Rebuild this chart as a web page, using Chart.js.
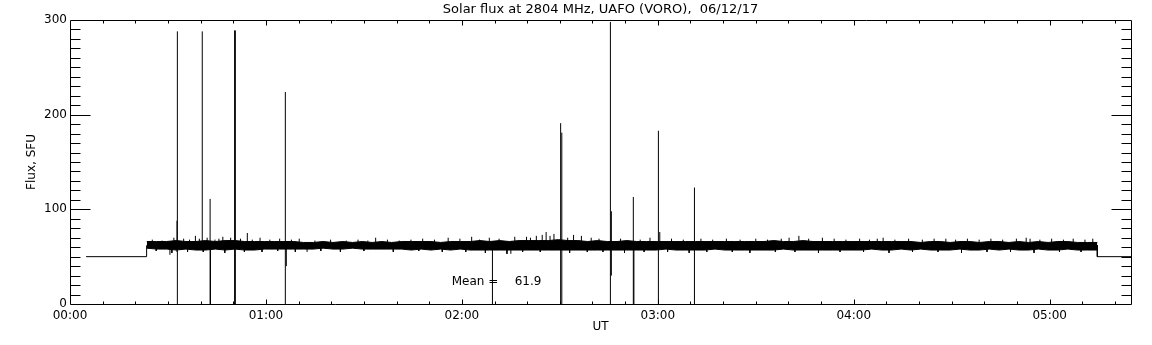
<!DOCTYPE html>
<html>
<head>
<meta charset="utf-8">
<script src="https://cdn.jsdelivr.net/npm/chart.js@4.4.1/dist/chart.umd.min.js"></script>
<style>
  html, body { margin: 0; padding: 0; background: #fff; }
  #wrap { width: 1152px; height: 345px; }
</style>
</head>
<body>
<div id="wrap"><canvas id="fluxChart" width="1152" height="345"></canvas></div>
<script>
// ==================== DATA ====================
// time in hours UT, flux in SFU

const titleText = 'Solar flux at 2804 MHz, UAFO (VORO),  06/12/17';
const xTitle = 'UT';
const yTitle = 'Flux, SFU';
const xMax = 5.415;
const xTickValues = [0, 1, 2, 3, 4, 5];
const xTickLabels = ['00:00', '01:00', '02:00', '03:00', '04:00', '05:00'];
const yTickValues = [0, 100, 200, 300];
const yTickLabels = ['0', '100', '200', '300'];

// calibration level before / after the observation
const calBeforeT = [0.082, 0.391, 0.391];
const calBeforeY = [50, 50, 62];
const calAfterT = [5.243, 5.243, 5.415];
const calAfterY = [62, 50, 50];

// core of the noise band, one reading every 3 minutes from 00:23.5
const bandStart = 0.392;
const bandStep = 0.05;
const bandUpper = [
    66, 66, 66, 67, 66, 66, 67, 66, 67, 67, 66, 66,
    66, 66, 66, 66, 65, 65, 66, 65, 66, 65, 66, 65,
    66, 65, 66, 66, 66, 66, 65, 66, 66, 66, 67, 66,
    67, 66, 67, 67, 67, 67, 68, 67, 67, 66, 67, 66,
    66, 67, 66, 66, 66, 66, 66, 66, 66, 66, 66, 66,
    66, 66, 66, 66, 67, 66, 66, 67, 66, 66, 66, 66,
    66, 66, 66, 66, 66, 66, 66, 65, 66, 66, 65, 66,
    66, 65, 66, 66, 65, 66, 65, 66, 65, 66, 66, 65,
    65
];
const bandLower = [
    59, 58, 58, 57, 58, 57, 57, 58, 57, 58, 57, 57,
    58, 58, 58, 58, 58, 58, 59, 58, 58, 59, 58, 58,
    58, 58, 58, 57, 58, 57, 58, 57, 58, 57, 57, 57,
    57, 57, 57, 57, 57, 57, 57, 57, 57, 57, 57, 57,
    57, 57, 57, 57, 57, 58, 57, 57, 57, 57, 58, 57,
    57, 57, 57, 57, 57, 58, 57, 57, 57, 57, 57, 57,
    57, 57, 58, 57, 57, 58, 57, 58, 57, 57, 57, 58,
    57, 57, 58, 57, 58, 57, 57, 58, 57, 57, 58, 57,
    57
];
const bandEndT = 5.243;
const bandEndUpper = 65;
const bandEndLower = 57;
const bandMid = 62;

// hair-like noise peaks above the band core
const hairUpT = [
    0.42, 0.47, 0.53, 0.58, 0.61, 0.66, 0.70, 0.74, 0.76, 0.82, 0.87, 0.93, 0.97,
    1.02, 1.07, 1.13, 1.17, 1.25, 1.33, 1.41, 1.47, 1.52, 1.62, 1.68, 1.74, 1.80,
    1.86, 1.93, 1.99, 2.05, 2.09, 2.14, 2.19, 2.27, 2.35, 2.41, 2.45, 2.54, 2.57,
    2.66, 2.70, 2.81, 2.91, 2.96, 3.07, 3.13, 3.22, 3.28, 3.35, 3.42, 3.50, 3.56,
    3.63, 3.67, 3.77, 3.84, 3.90, 3.96, 4.03, 4.08, 4.15, 4.21, 4.28, 4.35, 4.41,
    4.52, 4.58, 4.64, 4.70, 4.76, 4.83, 4.88, 4.95, 5.01, 5.07, 5.12, 5.18, 5.22
];
const hairUpY = [
    68, 67, 70, 69, 68, 69, 70, 68, 69, 70, 69, 68, 70,
    68, 69, 68, 69, 67, 68, 67, 68, 67, 68, 67, 68, 69,
    68, 70, 69, 71, 68, 70, 69, 71, 70, 73, 72, 70, 73,
    70, 69, 69, 68, 70, 69, 68, 69, 68, 69, 68, 69, 68,
    69, 70, 69, 70, 69, 68, 69, 68, 70, 68, 69, 68, 69,
    68, 69, 68, 69, 68, 69, 70, 68, 69, 68, 69, 68, 69
];
// and below it
const hairDownT = [
    0.44, 0.52, 0.60, 0.68, 0.79, 0.89, 0.98, 1.06, 1.15, 1.28, 1.38, 1.50, 1.65,
    1.78, 1.90, 2.02, 2.12, 2.23, 2.31, 2.40, 2.55, 2.64, 2.72, 2.83, 2.93, 3.05,
    3.16, 3.25, 3.38, 3.47, 3.60, 3.70, 3.82, 3.93, 4.05, 4.18, 4.30, 4.43, 4.55,
    4.68, 4.80, 4.92, 5.05, 5.16
];
const hairDownY = [
    56, 54, 55, 55, 54, 55, 55, 56, 55, 56, 55, 56, 55,
    56, 55, 55, 54, 53, 55, 55, 54, 55, 55, 54, 55, 55,
    54, 55, 55, 54, 55, 55, 54, 55, 55, 54, 55, 55, 54,
    55, 55, 54, 55, 55
];

// larger noise excursions
const noiseT    = [0.510, 0.546, 0.640, 0.780, 0.905, 1.210, 1.560, 2.250, 2.330, 2.380, 2.430, 2.470, 2.610, 3.010, 3.720, 4.120, 4.470, 4.900];
const noiseLow  = [52, 55, 60, 60, 60, 55, 58, 53, 60, 60, 60, 60, 60, 60, 60, 60, 60, 60];
const noiseHigh = [62, 88, 72, 71, 75, 63, 70, 62, 71, 72, 76, 74, 72, 76, 72, 69, 69, 69];

// interference spikes / dropouts
const spikeT    = [0.548, 0.675, 0.715, 0.717, 0.840, 0.844, 1.099, 1.104, 2.156, 2.504, 2.510, 2.758, 2.763, 2.875, 2.878, 3.003, 3.187];
const spikeLow  = [0, 60, 0, 0, 0, 0, 0, 40, 0, 0, 0, 0, 30, 0, 0, 0, 0];
const spikeHigh = [288, 288, 111, 60, 289, 289, 224, 60, 60, 191, 181, 298, 98, 113, 60, 183, 123];

const meanLabel = 'Mean =';
const meanValue = '61.9';
const meanAt = { t: 1.948, flux: 23.5 };

// ==================== CHART ====================

const FONT = 'DejaVu Sans';
Chart.defaults.font.family = FONT;
Chart.defaults.font.size = 12;
Chart.defaults.color = '#000';

function toPts(ts, ys) {
    return ts.map((t, i) => ({ x: t, y: ys[i] }));
}

function sticks(ts, lo, hi) {
    const pts = [];
    ts.forEach((t, i) => {
        const a = Array.isArray(lo) ? lo[i] : lo;
        pts.push({ x: t, y: a }, { x: t, y: hi[i] }, { x: t, y: null });
    });
    return pts;
}

const bandT = bandUpper.map((_, i) => bandStart + i * bandStep);
const upperPts = toPts(bandT, bandUpper).concat([{ x: bandEndT, y: bandEndUpper }]);
const lowerPts = toPts(bandT, bandLower).concat([{ x: bandEndT, y: bandEndLower }]);

const lineStyle = {
    borderColor: '#000',
    backgroundColor: '#000',
    borderWidth: 1,
    pointRadius: 0,
    tension: 0,
    spanGaps: false,
    fill: false
};

// IDL style box with inward major/minor ticks on all four sides
const idlAxes = {
    id: 'idlAxes',
    afterDatasetsDraw(chart) {
        const { ctx, chartArea: a, scales: { x, y } } = chart;
        ctx.save();
        ctx.strokeStyle = '#000';
        ctx.lineWidth = 1;
        const L = Math.round(a.left) + 0.5, R = Math.round(a.right) + 0.5;
        const T = Math.round(a.top) + 0.5, B = Math.round(a.bottom) + 0.5;
        ctx.beginPath();
        ctx.rect(L, T, R - L, B - T);
        // x ticks every 10 minutes, hours longer
        for (let m = 1; m / 6 < xMax; m++) {
            const px = Math.round(x.getPixelForValue(m / 6)) + 0.5;
            const len = m % 6 === 0 ? 5 : 3;
            ctx.moveTo(px, B); ctx.lineTo(px, B - len);
            ctx.moveTo(px, T); ctx.lineTo(px, T + len);
        }
        // y ticks every 10 SFU, hundreds longer
        for (let v = 10; v < 300; v += 10) {
            const py = Math.round(y.getPixelForValue(v)) + 0.5;
            const len = v % 100 === 0 ? 20 : 10;
            ctx.moveTo(L, py); ctx.lineTo(L + len, py);
            ctx.moveTo(R, py); ctx.lineTo(R - len, py);
        }
        ctx.stroke();

        ctx.fillStyle = '#000';
        ctx.font = '12px "' + FONT + '"';
        ctx.textBaseline = 'middle';
        ctx.textAlign = 'left';
        const mx = x.getPixelForValue(meanAt.t);
        const my = y.getPixelForValue(meanAt.flux);
        ctx.fillText(meanLabel, mx, my);
        ctx.fillText(meanValue, mx + 63, my);
        ctx.restore();
    }
};

new Chart(document.getElementById('fluxChart'), {
    type: 'line',
    data: {
        datasets: [
            Object.assign({}, lineStyle, { label: 'spikes', data: sticks(spikeT, spikeLow, spikeHigh) }),
            Object.assign({}, lineStyle, { label: 'noise', data: sticks(noiseT, noiseLow, noiseHigh) }),
            Object.assign({}, lineStyle, { label: 'hair up', data: sticks(hairUpT, bandMid, hairUpY) }),
            Object.assign({}, lineStyle, { label: 'hair down', data: sticks(hairDownT, bandMid, hairDownY) }),
            Object.assign({}, lineStyle, { label: 'cal before', data: toPts(calBeforeT, calBeforeY) }),
            Object.assign({}, lineStyle, { label: 'cal after', data: toPts(calAfterT, calAfterY) }),
            Object.assign({}, lineStyle, { label: 'upper', data: upperPts, fill: '+1' }),
            Object.assign({}, lineStyle, { label: 'lower', data: lowerPts })
        ]
    },
    options: {
        responsive: false,
        animation: false,
        events: [],
        layout: { padding: { top: 0, right: 21, bottom: 0, left: 0 } },
        plugins: {
            legend: { display: false },
            tooltip: { enabled: false },
            title: {
                display: true,
                text: titleText,
                fullSize: false,
                color: '#000',
                font: { family: FONT, size: 13, weight: 'normal' },
                padding: { top: 1.4, bottom: 3 }
            }
        },
        scales: {
            x: {
                type: 'linear',
                min: 0,
                max: xMax,
                grid: { display: false, drawTicks: false },
                border: { display: false },
                afterBuildTicks: s => { s.ticks = xTickValues.map(v => ({ value: v })); },
                afterFit: s => { s.height = 41; },
                ticks: {
                    autoSkip: false,
                    maxRotation: 0,
                    padding: 5,
                    color: '#000',
                    callback: (v, i) => xTickLabels[i]
                },
                title: { display: true, text: xTitle, color: '#000', padding: { top: 0, bottom: 11 } }
            },
            y: {
                min: 0,
                max: 300,
                grid: { display: false, drawTicks: false },
                border: { display: false },
                afterBuildTicks: s => { s.ticks = yTickValues.map(v => ({ value: v })); },
                afterFit: s => { s.width = 70; },
                ticks: {
                    padding: 3,
                    color: '#000',
                    callback: (v, i) => yTickLabels[i]
                },
                title: { display: true, text: yTitle, color: '#000', padding: { top: 25, bottom: 0 } }
            }
        }
    },
    plugins: [idlAxes]
});
</script>
</body>
</html>
